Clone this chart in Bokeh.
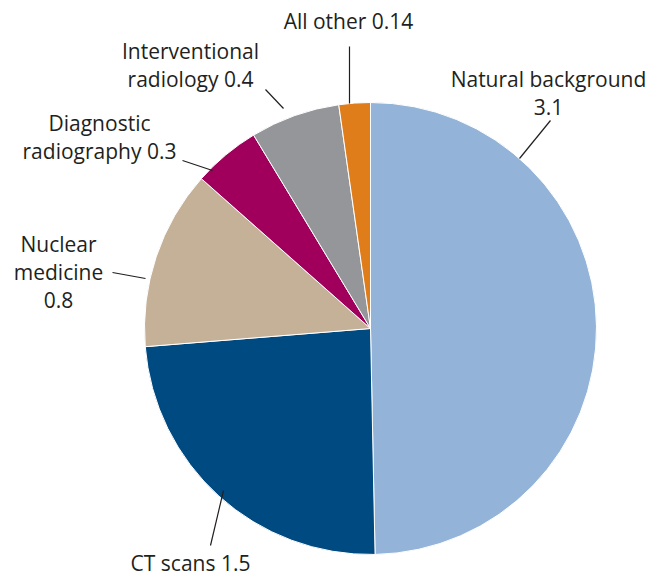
import numpy as np
from bokeh.plotting import figure
from bokeh.models import Range1d, ColumnDataSource
from bokeh.core.properties import value
from bokeh.embed import file_html
from bokeh.resources import INLINE

# ---- data ----
categories = ["Natural background", "CT scans", "Nuclear medicine",
              "Diagnostic radiography", "Interventional radiology", "All other"]
values = [3.1, 1.5, 0.8, 0.3, 0.4, 0.14]
colors = ["#93b4d8", "#004a82", "#c5b098", "#a0005c", "#949699", "#e07d1b"]
label_lines = [["Natural background", "3.1"],
               ["CT scans 1.5"],
               ["Nuclear", "medicine", "0.8"],
               ["Diagnostic", "radiography 0.3"],
               ["Interventional", "radiology 0.4"],
               ["All other 0.14"]]

# ---- layout (pixel coordinates of the picture) ----
W, H = 660, 575
CX, CY, R = 370, 328, 226
label_pos = [(548, 78), (190, 562), (58, 243), (99, 122), (190, 50), (348, 20)]
line_step = 28
leaders = [((550, 120), (519, 158)),
           ((210, 545), (223, 490)),
           ((112, 272), (145, 278)),
           ((182, 160), (212, 170)),
           ((265, 89), (283, 108)),
           ((349, 46), (349, 103))]

p = figure(width=W, height=H, output_backend="svg", toolbar_location=None,
           x_range=Range1d(0, W), y_range=Range1d(-H, 0),
           min_border=0, outline_line_color=None)
p.axis.visible = False
p.grid.visible = False
p.background_fill_color = "white"
p.border_fill_color = "white"

v = np.array(values, dtype=float)
frac = v / v.sum()
cum = np.concatenate([[0], np.cumsum(frac)])
start = np.pi / 2 - cum[:-1] * 2 * np.pi
end = np.pi / 2 - cum[1:] * 2 * np.pi
src = ColumnDataSource(dict(start=start, end=end, color=colors, cat=categories))
p.wedge(x=CX, y=-CY, radius=R, start_angle="start", end_angle="end",
        direction="clock", fill_color="color", line_color="white",
        line_width=1, source=src)

# leader lines
x0 = [a[0] for a, b in leaders]; y0 = [-a[1] for a, b in leaders]
x1 = [b[0] for a, b in leaders]; y1 = [-b[1] for a, b in leaders]
p.segment(x0=x0, y0=y0, x1=x1, y1=y1, line_color="#231f20", line_width=1.2)

# labels
tx, ty, tt = [], [], []
for (lx, ly), lines in zip(label_pos, label_lines):
    for i, s in enumerate(lines):
        tx.append(lx); ty.append(-(ly + i * line_step)); tt.append(s)
p.text(x=tx, y=ty, text=tt, text_align="center", text_baseline="middle",
       text_font=value("Open Sans"), text_font_size="21px", text_color="#231f20")

open("out.html", "w").write(file_html(p, INLINE))
